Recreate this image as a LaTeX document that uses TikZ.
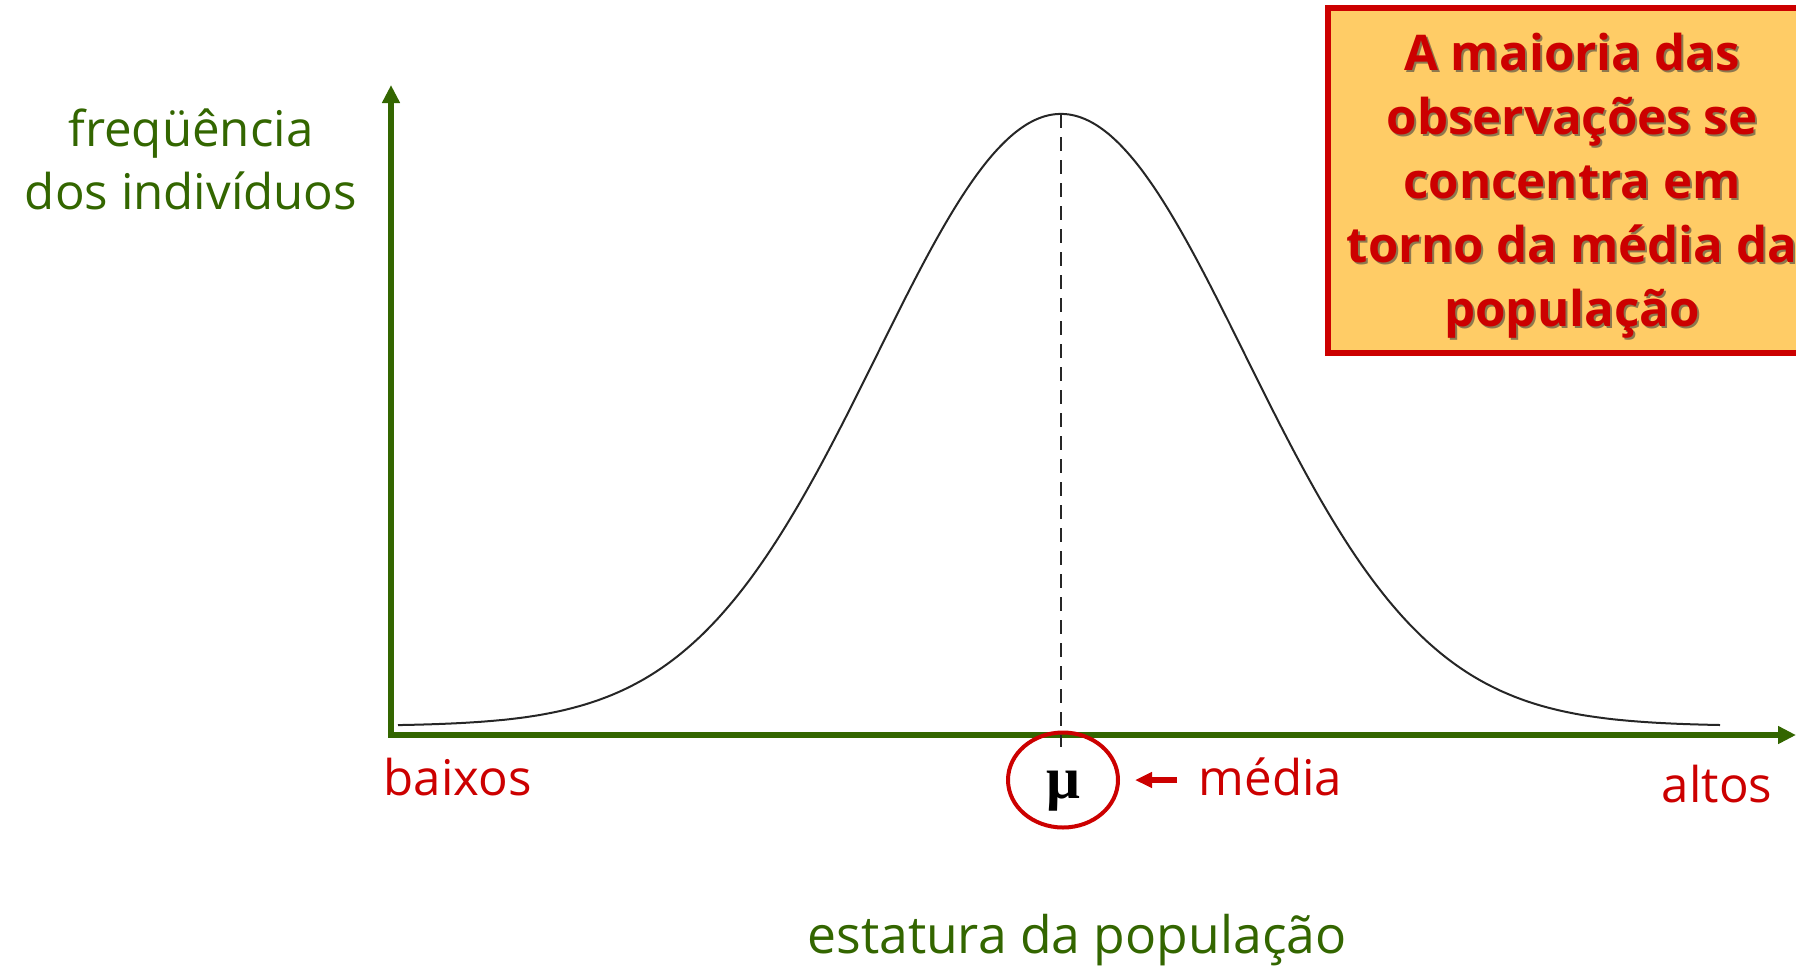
\documentclass[tikz,border=0pt]{standalone}
\usepackage{fontspec}
\setmainfont{Open Sans}
\newfontfamily\mufont{Liberation Serif}
\usepackage{xcolor}
\usepackage{tikz}
\usetikzlibrary{arrows.meta,positioning,shapes.geometric,calc}
\definecolor{axisgreen}{HTML}{336600}
\definecolor{notered}{HTML}{CC0000}
\definecolor{notefill}{HTML}{FFCC66}
\newcommand\notebody{A maioria das\\observações se\\concentra em\\torno da média da\\população}
\tikzset{
  axis/.style = {draw = axisgreen, line width = 0.6mm, line join = miter, {Triangle[length = 1.8mm, width = 1.7mm]}-{Triangle[length = 1.8mm, width = 1.7mm]}},
  bell/.style = {draw = black!85, line width = 0.2mm},
  meanline/.style = {draw = black!85, line width = 0.2mm, dash pattern = on 1.4mm off 0.9mm},
  greenlabel/.style = {text = axisgreen, font = \fontsize{14}{17.9}\selectfont, inner sep = 0pt},
  redlabel/.style = {text = notered, font = \fontsize{14}{17.9}\selectfont, inner sep = 0pt},
  pointer/.style = {draw = notered, line width = 0.6mm, -{Triangle[length = 1.7mm, width = 1.5mm]}},
  notetext/.style = {align = center, inner sep = 0pt, text = notered, font = \bfseries\fontsize{14}{18.2}\selectfont},
}

\begin{document}
\begin{tikzpicture}[x = 0.1mm, y = -0.1mm]
\useasboundingbox (0,0) rectangle (1796,968);
% note box, runs off the right edge
\node[draw = notered, fill = notefill, line width = 0.6mm, minimum width = 48.8mm, minimum height = 34.5mm] (note) at (1572,180.5) {};
\node[notetext, text = black!75, text opacity = .6] (noteshadow) at ([shift = {(2,7)}]note.center) {\notebody};
\node[notetext] (notetext) at ([yshift = -0.5mm]note.center) {\notebody};
% axes
\coordinate (origin) at (391,735);
\coordinate (ytop) at (391,85);
\coordinate (xend) at (1796,735);
\draw[axis] (ytop) -- (origin) -- (xend);
% normal curve
\draw[bell] plot[domain = 398:1720, samples = 200, smooth] (\x, {726-612*exp(-0.5*((\x-1061)/184)^2)});
\coordinate (peak) at (1061,114);
\coordinate (meanfoot) at (1061,747);
\draw[meanline] (peak) -- (meanfoot);
% mean
\node[ellipse, draw = notered, line width = 0.4mm, minimum width = 11mm, minimum height = 9.5mm, inner sep = 0pt] (mu) at (1063,780) {};
\node[anchor = base, inner sep = 0pt, font = \mufont\bfseries\fontsize{17}{17}\selectfont] (musym) at (1063,798) {μ};
\node[redlabel, anchor = base west] (media) at (1198,795) {média};
\draw[pointer, shorten < = 2.1mm, shorten > = 1.5mm] (media.west |- mu.east) -- (mu.east);
% axis labels
\node[greenlabel, align = center, anchor = north] (ylabel) at (191,108) {freqüência\\dos indivíduos};
\node[redlabel, anchor = base west] (low) at (383,795) {baixos};
\node[redlabel, anchor = base east] (high) at (1773,802) {altos};
\node[greenlabel, anchor = base, font = \fontsize{14.7}{18}\selectfont] (xlabel) at (1077,953) {estatura da população};
\end{tikzpicture}
\end{document}
